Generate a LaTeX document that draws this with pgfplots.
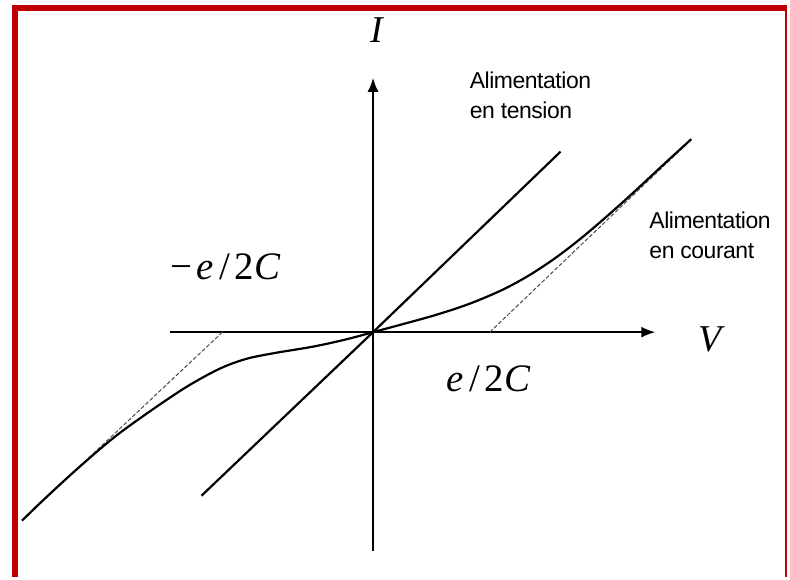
\documentclass[border=0pt]{standalone}
\usepackage{fontspec}
\setmainfont{Liberation Serif}
\newfontfamily\labelsans[LetterSpace=-2]{Liberation Sans}
\usepackage{pgfplots}
\pgfplotsset{compat=1.18}
\usetikzlibrary{arrows.meta}

\begin{document}
\begin{tikzpicture}
\begin{axis}[
  scale only axis, width=395pt, height=289pt,
  xmin=-374, xmax=416, ymin=-245, ymax=333,
  hide axis, clip=false,
]
% background and frame
\path[fill=white] (axis cs:-374,-245) rectangle (axis cs:416,333);
\draw[line width=3pt, color={rgb,255:red,192;green,0;blue,0}]
  (axis cs:-359,-245) -- (axis cs:-359,325) -- (axis cs:415,325);
\draw[line width=0.8pt, color={rgb,255:red,192;green,0;blue,0}]
  (axis cs:414,325) -- (axis cs:414,-245);

% axes
\addplot[black, line width=1pt, -{Latex[length=7pt,width=5.5pt]}]
  coordinates {(-204,0) (283,0)};
\addplot[black, line width=1pt, -{Latex[length=7pt,width=5.5pt]}]
  coordinates {(0,-219) (0,255)};

% voltage supply: straight ohmic line
\addplot[black, line width=1.1pt]
  coordinates {(-172,-164) (0,0) (188,181)};

% asymptotes shifted by e/2C
\addplot[black!70, line width=0.5pt, dash pattern=on 2pt off 1pt]
  coordinates {(117,0) (319,193)};
\addplot[black!70, line width=0.5pt, dash pattern=on 2pt off 1pt]
  coordinates {(-151,0) (-352,-189)};

% current supply: Coulomb blockade curve
\addplot[black, line width=1.1pt, smooth, tension=0.55]
  coordinates {
    (-352,-189) (-326,-164) (-292,-133) (-259,-105) (-226,-81)
    (-192,-58) (-169,-44.5) (-149,-34.5) (-126,-26.5) (-99,-21)
    (-59,-14.3) (-26,-7) (0,0)
    (29,7.8) (63,17.3) (96,28.2) (129,42.1) (156,56.7) (183,74.5)
    (209,94.5) (236,117.5) (263,141.8) (289,166) (319,193.5)
  };

% labels
\newcommand{\sep}{\hspace{0.13em}/\hspace{0.13em}}
\node[font=\fontsize{19}{22}\selectfont\itshape] at (axis cs:4,303) {I};
\node[font=\fontsize{19}{22}\selectfont\itshape] at (axis cs:338,-7) {V};
\node[font=\fontsize{19.5}{22}\selectfont] at (axis cs:-148,65)
  {−\hspace{0.12em}\textit{e}\sep 2\textit{C}};
\node[font=\fontsize{19.5}{22}\selectfont] at (axis cs:116,-47)
  {\textit{e}\sep 2\textit{C}};
\node[font=\labelsans\fontsize{11.5}{15}\selectfont, align=left, anchor=north west]
  at (axis cs:90,268) {Alimentation\\en tension};
\node[font=\labelsans\fontsize{11.5}{15}\selectfont, align=left, anchor=north west]
  at (axis cs:270,128) {Alimentation\\en courant};
\end{axis}
\end{tikzpicture}
\end{document}
